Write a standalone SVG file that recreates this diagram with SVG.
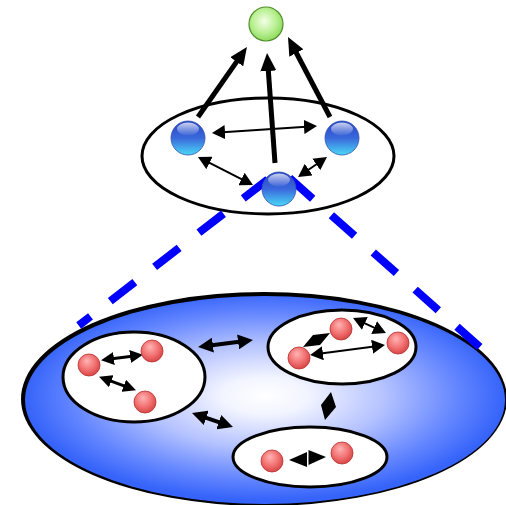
<svg xmlns="http://www.w3.org/2000/svg" width="506" height="505" viewBox="0 0 506 505">
  <defs>
    <radialGradient id="gGreen" cx="0.45" cy="0.42" r="0.6">
      <stop offset="0" stop-color="#f2ffe8"/>
      <stop offset="0.6" stop-color="#b8ef90"/>
      <stop offset="1" stop-color="#8bd85a"/>
    </radialGradient>
    <linearGradient id="gBlue" x1="0" y1="0" x2="0" y2="1">
      <stop offset="0" stop-color="#2844c4"/>
      <stop offset="0.5" stop-color="#3a68dc"/>
      <stop offset="1" stop-color="#4ad8f6"/>
    </linearGradient>
    <linearGradient id="gShine" x1="0" y1="0" x2="0" y2="1">
      <stop offset="0" stop-color="#ffffff" stop-opacity="0.75"/>
      <stop offset="1" stop-color="#ffffff" stop-opacity="0.05"/>
    </linearGradient>
    <radialGradient id="gRed" cx="0.45" cy="0.4" r="0.6" fx="0.4" fy="0.3">
      <stop offset="0" stop-color="#ffb4b4"/>
      <stop offset="0.6" stop-color="#f27272"/>
      <stop offset="1" stop-color="#d84646"/>
    </radialGradient>
    <radialGradient id="gPool" cx="0.5" cy="0.48" r="0.5">
      <stop offset="0" stop-color="#ffffff"/>
      <stop offset="0.18" stop-color="#f2f4ff"/>
      <stop offset="0.5" stop-color="#b4c2ff"/>
      <stop offset="0.8" stop-color="#6486ff"/>
      <stop offset="1" stop-color="#3664fa"/>
    </radialGradient>
    <marker id="hBig" markerUnits="userSpaceOnUse" markerWidth="18" markerHeight="16" refX="9" refY="8" orient="auto">
      <path d="M0,0 L18,8 L0,16 z" fill="#000"/>
    </marker>
    <marker id="hThin" markerUnits="userSpaceOnUse" markerWidth="13" markerHeight="14" refX="6" refY="7" orient="auto-start-reverse">
      <path d="M0,0 L13,7 L0,14 z" fill="#000"/>
    </marker>
    <marker id="hFat" markerUnits="userSpaceOnUse" markerWidth="15" markerHeight="15" refX="7" refY="7.5" orient="auto-start-reverse">
      <path d="M0,0 L15,7.5 L0,15 z" fill="#000"/>
    </marker>
    <marker id="hSmall" markerUnits="userSpaceOnUse" markerWidth="13" markerHeight="13" refX="6" refY="6.5" orient="auto-start-reverse">
      <path d="M0,0 L13,6.5 L0,13 z" fill="#000"/>
    </marker>
  </defs>
  <style>
    .ring { fill: #fff; stroke: #000; stroke-width: 3; }
    .blue { fill: url(#gBlue); stroke: #3050b0; stroke-width: 0.8; }
    .shine { fill: url(#gShine); }
    .red { fill: url(#gRed); stroke: #b83030; stroke-width: 0.8; }
    .up { stroke: #000; stroke-width: 5; fill: none; marker-end: url(#hBig); }
    .thin { stroke: #000; stroke-width: 2; fill: none; marker-start: url(#hThin); marker-end: url(#hThin); }
    .fat { stroke: #000; stroke-width: 4; fill: none; marker-start: url(#hFat); marker-end: url(#hFat); }
    .small { stroke: #000; stroke-width: 3; fill: none; marker-start: url(#hSmall); marker-end: url(#hSmall); }
    .dash { stroke: #0000ff; stroke-width: 8; fill: none; stroke-dasharray: 31 25; }
  </style>

  <!-- lower level: the shaded pool with its three groups -->
  <g id="pool">
    <ellipse cx="264" cy="399" rx="243" ry="107" fill="#000"/>
    <ellipse cx="265" cy="400" rx="240" ry="104" fill="url(#gPool)"/>
  </g>
  <g id="group-left">
    <ellipse class="ring" cx="134" cy="377" rx="71" ry="45"/>
  </g>
  <g id="group-right">
    <ellipse class="ring" cx="342" cy="347" rx="74" ry="37"/>
  </g>
  <g id="group-bottom">
    <ellipse class="ring" cx="310" cy="457" rx="77" ry="30"/>
  </g>

  <!-- upper level ring -->
  <g id="upper-ring">
    <ellipse class="ring" cx="268" cy="156" rx="126" ry="58"/>
  </g>

  <!-- projection lines from the upper level down to the pool -->
  <g id="projection">
    <path class="dash" d="M267.8,179.5 L78.7,325.5"/>
    <path class="dash" d="M289.5,178.1 L479.8,347"/>
  </g>

  <g id="connectors">
    <!-- upper level -->
    <line class="up" x1="198" y1="117" x2="241.8" y2="54.4"/>
    <line class="up" x1="275" y1="163" x2="267.7" y2="62"/>
    <line class="up" x1="330" y1="117" x2="292.2" y2="45"/>
    <line class="thin" x1="219" y1="132.5" x2="310" y2="126.5"/>
    <line class="thin" x1="204.2" y1="160.2" x2="246.8" y2="181.8"/>
    <line class="thin" x1="303.8" y1="173" x2="321.2" y2="161"/>
    <!-- between groups -->
    <line class="fat" x1="206" y1="346" x2="245" y2="341"/>
    <line class="fat" x1="199.6" y1="415.6" x2="225.4" y2="424.4"/>
    <polygon points="331,392 336,407 325,420 321,405" fill="#000"/>
    <!-- inside the left group -->
    <line class="small" x1="108" y1="359.3" x2="136" y2="355.7"/>
    <line class="small" x1="105.6" y1="379.1" x2="129.4" y2="387.9"/>
    <!-- inside the right group -->
    <line class="thin" x1="317" y1="354" x2="378" y2="346"/>
    <line class="thin" x1="359.4" y1="320.9" x2="379.6" y2="330.1"/>
    <polygon points="303,347 313,335 330,333 320,345" fill="#000"/>
    <!-- inside the bottom group -->
    <polygon points="289,460 307,452 307,467" fill="#000"/>
    <polygon points="326,457 308.5,450 308.5,465" fill="#000"/>
  </g>

  <!-- nodes -->
  <g id="top-node">
    <circle cx="266" cy="24" r="17" fill="url(#gGreen)" stroke="#4f8f2a" stroke-width="1.2"/>
  </g>
  <g id="blue-left">
    <circle class="blue" cx="188" cy="138" r="17"/>
    <ellipse class="shine" cx="188" cy="129" rx="11" ry="6.5"/>
  </g>
  <g id="blue-right">
    <circle class="blue" cx="342" cy="138" r="17"/>
    <ellipse class="shine" cx="342" cy="129" rx="11" ry="6.5"/>
  </g>
  <g id="blue-bottom">
    <circle class="blue" cx="279" cy="189" r="17"/>
    <ellipse class="shine" cx="279" cy="180" rx="11" ry="6.5"/>
  </g>

  <g id="red-l1"><circle class="red" cx="89" cy="365" r="11"/></g>
  <g id="red-l2"><circle class="red" cx="152" cy="351" r="11"/></g>
  <g id="red-l3"><circle class="red" cx="145" cy="402" r="11"/></g>
  <g id="red-r1"><circle class="red" cx="341" cy="329" r="11"/></g>
  <g id="red-r2"><circle class="red" cx="398" cy="343" r="11"/></g>
  <g id="red-r3"><circle class="red" cx="299" cy="358" r="11"/></g>
  <g id="red-b1"><circle class="red" cx="272" cy="461" r="11"/></g>
  <g id="red-b2"><circle class="red" cx="342" cy="453" r="11"/></g>
</svg>
